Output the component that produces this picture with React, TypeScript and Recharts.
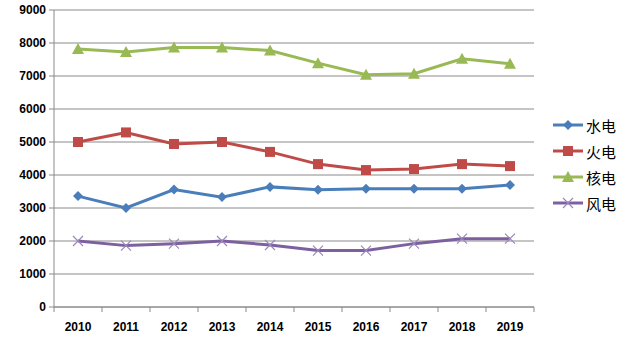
import React from "react";
import { LineChart, Line, XAxis, YAxis, CartesianGrid } from "recharts";

const years = ["2010", "2011", "2012", "2013", "2014", "2015", "2016", "2017", "2018", "2019"];
const hydro = [3360, 3000, 3560, 3330, 3640, 3550, 3580, 3580, 3580, 3700];
const thermal = [5000, 5290, 4940, 5000, 4700, 4330, 4150, 4180, 4330, 4270];
const nuclear = [7820, 7730, 7860, 7860, 7770, 7390, 7040, 7070, 7520, 7370];
const wind = [2000, 1860, 1920, 2000, 1880, 1710, 1710, 1920, 2070, 2070];
const yTicks = [0, 1000, 2000, 3000, 4000, 5000, 6000, 7000, 8000, 9000];

const seriesNames = ["水电", "火电", "核电", "风电"];
const colors = ["#4a7ebb", "#be4b48", "#98b954", "#7d60a0"];
const shapes = ["diamond", "square", "triangle", "cross"];

const data = years.map((y, i) => ({
  idx: i,
  year: y,
  水电: hydro[i],
  火电: thermal[i],
  核电: nuclear[i],
  风电: wind[i],
}));

const allTicks: number[] = [];
for (let i = 0; i <= years.length; i++) {
  allTicks.push(i - 0.5);
  if (i < years.length) allTicks.push(i);
}

function Marker({ shape, color, cx, cy }: { shape: string; color: string; cx: number; cy: number }) {
  if (cx == null || cy == null) return null;
  if (shape === "diamond") {
    const r = 5;
    return <path d={`M${cx},${cy - r}L${cx + r},${cy}L${cx},${cy + r}L${cx - r},${cy}Z`} fill={color} />;
  }
  if (shape === "square") {
    const r = 5;
    return <rect x={cx - r} y={cy - r} width={2 * r} height={2 * r} fill={color} />;
  }
  if (shape === "triangle") {
    const r = 6;
    return <path d={`M${cx},${cy - r}L${cx + r},${cy + r - 1}L${cx - r},${cy + r - 1}Z`} fill={color} />;
  }
  const r = 5;
  return (
    <path
      d={`M${cx - r},${cy - r}L${cx + r},${cy + r}M${cx + r},${cy - r}L${cx - r},${cy + r}`}
      stroke="#9b88b8"
      strokeWidth={1.2}
      fill="none"
    />
  );
}

function LegendBox() {
  return (
    <div
      style={{
        position: "absolute",
        left: 552,
        top: 115,
        display: "flex",
        flexDirection: "column",
        gap: 6,
      }}
    >
      {seriesNames.map((n, i) => (
        <div key={n} style={{ display: "flex", alignItems: "center", height: 20 }}>
          <svg width={32} height={14}>
            <line x1={1} y1={7} x2={31} y2={7} stroke={colors[i]} strokeWidth={3} />
            <Marker shape={shapes[i]} color={colors[i]} cx={16} cy={7} />
          </svg>
          <span
            style={{
              marginLeft: 2,
              fontSize: 15,
              fontFamily: "'Noto Sans CJK SC', sans-serif",
              color: "#000",
            }}
          >
            {n}
          </span>
        </div>
      ))}
    </div>
  );
}

const fontFamily = "'Liberation Sans', Arial, sans-serif";

const tickStyle = {
  fontSize: 12,
  fontWeight: "bold" as const,
  fontFamily,
  fill: "#000",
};

function XTick(props: any) {
  const { x, y, payload } = props;
  const v = payload.value as number;
  if (Number.isInteger(v)) {
    return (
      <text x={x} y={y + 20} textAnchor="middle" fontSize={12} fontWeight="bold" fontFamily={fontFamily} fill="#000" dominantBaseline="central">
        {years[v]}
      </text>
    );
  }
  return <line x1={x} y1={y} x2={x} y2={y + 5} stroke="#8a8a8a" strokeWidth={1} />;
}

export default function App() {
  return (
    <div style={{ position: "absolute", left: 0, top: 0, width: 629, height: 345, background: "#fff" }}>
      <LineChart width={629} height={345} data={data} margin={{ top: 10, right: 95, bottom: 8, left: 0 }}>
        <CartesianGrid horizontal={true} vertical={false} stroke="#8a8a8a" strokeWidth={1} />
        <XAxis
          dataKey="idx"
          type="number"
          domain={[-0.5, 9.5]}
          ticks={allTicks}
          tickLine={false}
          tickSize={0}
          tickMargin={0}
          axisLine={{ stroke: "#8a8a8a" }}
          tick={<XTick />}
          height={30}
          interval={0}
        />
        <YAxis
          domain={[0, 9000]}
          ticks={yTicks}
          width={54}
          tickSize={5}
          tickMargin={3}
          tickLine={{ stroke: "#8a8a8a" }}
          axisLine={{ stroke: "#8a8a8a" }}
          tick={tickStyle}
          interval={0}
        />
        {seriesNames.map((n, i) => (
          <Line
            key={n}
            dataKey={n}
            stroke={colors[i]}
            strokeWidth={3}
            isAnimationActive={false}
            dot={(p: any) => <Marker key={p.index} shape={shapes[i]} color={colors[i]} cx={p.cx} cy={p.cy} />}
            activeDot={false}
          />
        ))}
      </LineChart>
      <LegendBox />
    </div>
  );
}
